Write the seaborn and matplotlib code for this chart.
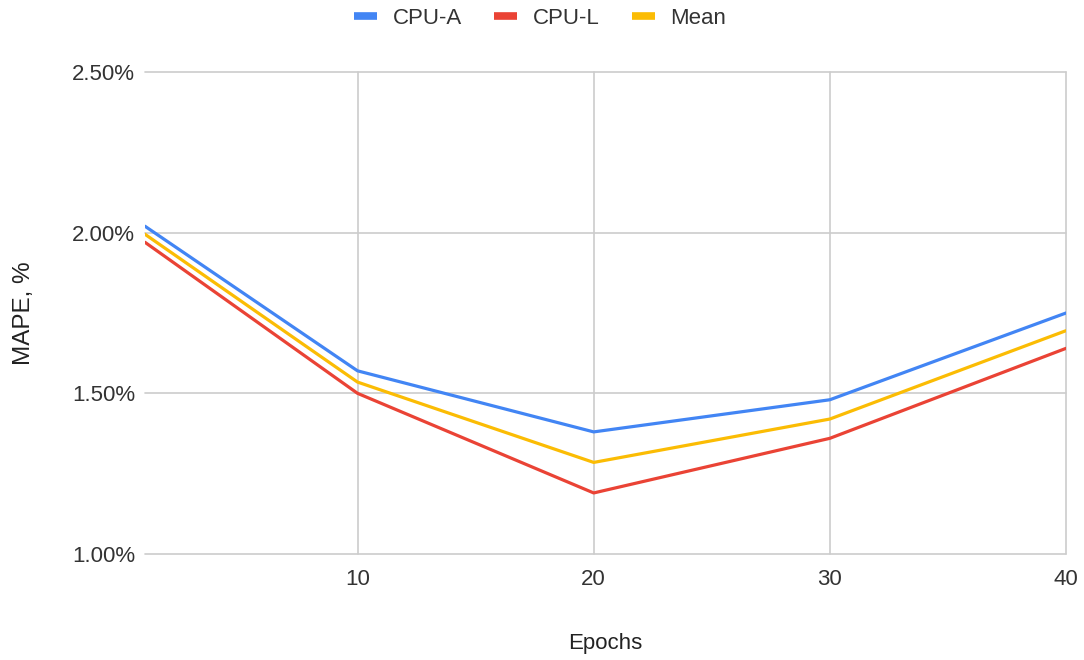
import matplotlib
matplotlib.use("Agg")
import matplotlib.pyplot as plt
from matplotlib.lines import Line2D
from matplotlib.ticker import FuncFormatter
import seaborn as sns
import pandas as pd

epochs = [1, 10, 20, 30, 40]
cpu_a = [2.02, 1.57, 1.38, 1.48, 1.75]
cpu_l = [1.97, 1.50, 1.19, 1.36, 1.64]
mean = [1.995, 1.535, 1.285, 1.42, 1.695]
series_names = ["CPU-A", "CPU-L", "Mean"]
colors = ["#4285F4", "#EA4335", "#FBBC04"]

df = pd.concat([
    pd.DataFrame({"Epochs": epochs, "MAPE": vals, "Series": name})
    for name, vals in zip(series_names, [cpu_a, cpu_l, mean])
])

sns.set_theme(style="white")
plt.rcParams['font.family'] = ['Liberation Sans', 'DejaVu Sans']

fig = plt.figure(figsize=(10.84, 6.6), dpi=100)
ax = fig.add_axes([145/1084, 1 - 554/660, (1066-145)/1084, (554-72)/660])

sns.lineplot(data=df, x="Epochs", y="MAPE", hue="Series", palette=colors,
             hue_order=series_names, linewidth=2.3, ax=ax, legend=False)

ax.set_xlim(1, 40)
ax.set_ylim(1.0, 2.5)
ax.set_xticks([10, 20, 30, 40])
ax.set_yticks([1.0, 1.5, 2.0, 2.5])
ax.yaxis.set_major_formatter(FuncFormatter(lambda v, p: f"{v:.2f}%"))
ax.grid(True, color="#CCCCCC", linewidth=1.2)
for gl in ax.get_xgridlines() + ax.get_ygridlines():
    gl.set_clip_on(False)
for s in ax.spines.values():
    s.set_visible(False)
ax.tick_params(axis="both", length=0, labelsize=16, colors="#333333")
ax.tick_params(axis="y", pad=7)
ax.tick_params(axis="x", pad=11)
ax.set_xlabel("Epochs", fontsize=16, color="#222222", va="center")
ax.xaxis.set_label_coords(0.5, -(643 - 554) / 482)
ax.set_ylabel("MAPE, %", fontsize=17.5, color="#222222", va="center")
ax.yaxis.set_label_coords((24 - 145) / 921, 0.5)

handles = [Line2D([0], [0], color=c, lw=5.5, solid_capstyle="butt") for c in colors]
fig.legend(handles, series_names, loc="center", bbox_to_anchor=(540/1084, 1 - 18/660),
           ncol=3, frameon=False, fontsize=16, handlelength=1.05, columnspacing=1.45,
           handletextpad=0.7, labelcolor="#333333")

fig.savefig("out.png", dpi=100, facecolor="white")
